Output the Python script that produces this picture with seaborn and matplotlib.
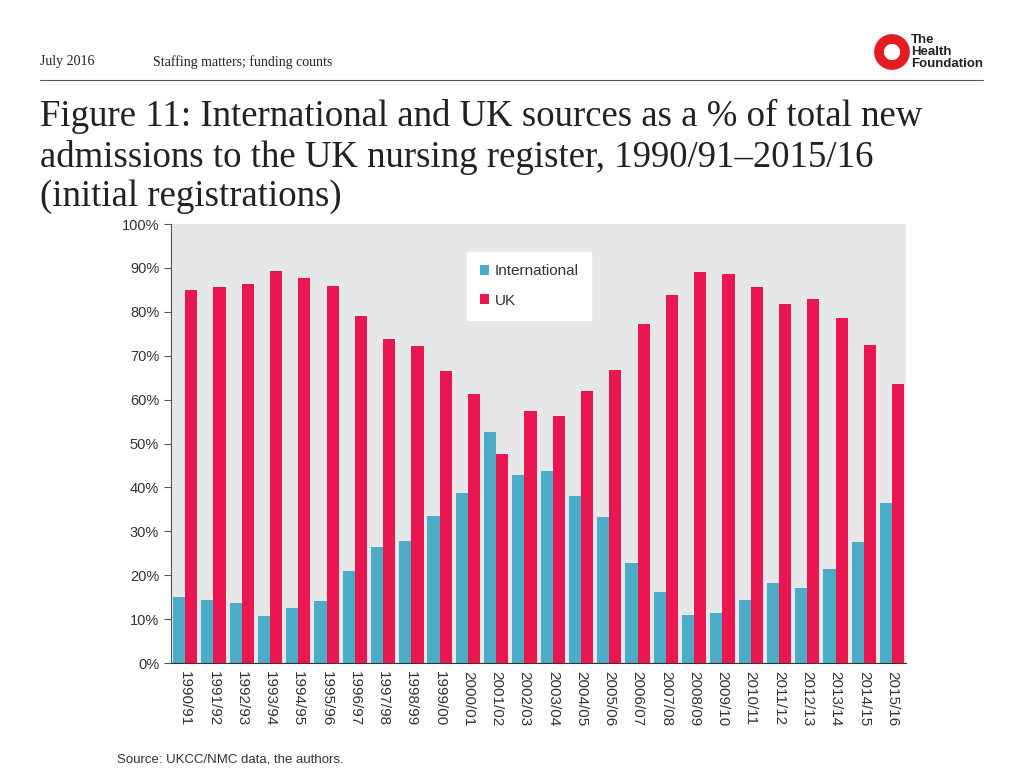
import matplotlib.pyplot as plt
import matplotlib.patches as mpatches
import seaborn as sns
import pandas as pd

years = ["1990/91", "1991/92", "1992/93", "1993/94", "1994/95", "1995/96", "1996/97",
         "1997/98", "1998/99", "1999/00", "2000/01", "2001/02", "2002/03", "2003/04",
         "2004/05", "2005/06", "2006/07", "2007/08", "2008/09", "2009/10", "2010/11",
         "2011/12", "2012/13", "2013/14", "2014/15", "2015/16"]
international = [15.0, 14.4, 13.7, 10.7, 12.5, 14.1, 21.0, 26.4, 27.8, 33.5, 38.7, 52.6, 42.8,
                 43.7, 38.0, 33.3, 22.8, 16.2, 10.9, 11.4, 14.4, 18.2, 17.1, 21.4, 27.6, 36.4]
uk = [85.0, 85.6, 86.3, 89.3, 87.7, 85.9, 79.0, 73.8, 72.2, 66.5, 61.3, 47.6, 57.4,
      56.3, 62.0, 66.7, 77.2, 83.8, 89.1, 88.6, 85.6, 81.8, 82.9, 78.6, 72.4, 63.6]

df = pd.DataFrame({
    "year": years * 2,
    "share": international + uk,
    "source": ["International"] * len(years) + ["UK"] * len(years),
})

sns.set_style("white")
plt.rcParams['font.family'] = ['Liberation Sans', 'DejaVu Sans']

fig = plt.figure(figsize=(10.24, 7.68), dpi=100)
ax = fig.add_axes([0.167, 0.1367, 0.718, 0.5716])
ax.set_facecolor("#E6E7E8")

sns.barplot(data=df, x="year", y="share", hue="source",
            palette={"International": "#4BACC8", "UK": "#EA1650"},
            width=0.86, gap=0, ax=ax, saturation=1, edgecolor="none")

ax.set_ylim(0, 100)
ax.set_xlim(-0.5, len(years) - 0.5)
ax.set_yticks(range(0, 101, 10))
ax.set_yticklabels([f"{v}%" for v in range(0, 101, 10)], fontsize=10.5, color="#333333")
ax.set_xticks(range(len(years)))
ax.set_xticklabels(years, rotation=270, fontsize=11, color="#333333")
ax.tick_params(axis="x", length=0, pad=6)
ax.set_xticks([i - 0.5 for i in range(len(years) + 1)], minor=True)
ax.tick_params(axis="x", which="minor", length=5, color="#333333", width=0.8, direction="out")
ax.tick_params(axis="y", length=5, color="#555555", width=0.8, direction="out", left=True)
ax.set_xlabel("")
ax.set_ylabel("")
for side in ["top", "right"]:
    ax.spines[side].set_visible(False)
ax.spines["left"].set_color("#555555")
ax.spines["bottom"].set_color("#333333")

leg = ax.legend(loc="upper left", bbox_to_anchor=(0.403, 0.936), frameon=True,
                fancybox=False, edgecolor="white", facecolor="white", framealpha=1,
                fontsize=11, handlelength=0.6, handleheight=0.6, handletextpad=0.4,
                labelspacing=1.0, borderpad=0.8, borderaxespad=0)
for t in leg.get_texts():
    t.set_color("#333333")

# header
fig.text(40 / 1024, 1 - 62 / 768, "July 2016", family="Liberation Serif", fontsize=10,
         color="#222222", va="center")
fig.text(153 / 1024, 1 - 62 / 768, "Staffing matters; funding counts", family="Liberation Serif",
         fontsize=10, color="#222222", va="center")
fig.add_artist(plt.Line2D([40 / 1024, 983 / 1024], [1 - 80 / 768, 1 - 80 / 768],
                          color="#555555", linewidth=0.8))

# logo
fig.add_artist(mpatches.Ellipse((892 / 1024, 1 - 52 / 768), 26 / 1024, 26 / 768,
                                facecolor="none", edgecolor="#E31B23", linewidth=7))
fig.text(911 / 1024, 1 - 52 / 768, "The\nHealth\nFoundation", fontsize=9.5, fontweight="bold",
         color="#222222", va="center", ha="left", linespacing=0.95)

# title
fig.text(40 / 1024, 1 - 99 / 768,
         "Figure 11: International and UK sources as a % of total new\n"
         "admissions to the UK nursing register, 1990/91\u20132015/16\n"
         "(initial registrations)",
         family="Liberation Serif", fontsize=26.5, color="#222222", va="top", ha="left",
         linespacing=1.2)

fig.text(117 / 1024, 1 - 760 / 768, "Source: UKCC/NMC data, the authors.", fontsize=9.5,
         color="#333333", va="center")

plt.savefig("out.png", dpi=100)
